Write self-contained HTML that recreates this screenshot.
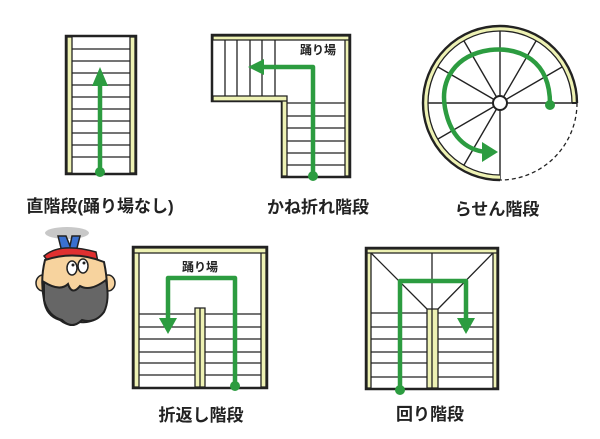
<!DOCTYPE html><html><head><meta charset="utf-8"><style>body{margin:0;background:#fff}svg{display:block}text{font-family:"Liberation Sans","Noto Sans CJK JP",sans-serif;font-weight:bold;fill:#222}</style></head><body>
<svg width="600" height="439" viewBox="0 0 600 439" xmlns="http://www.w3.org/2000/svg">
<g stroke="#222" stroke-width="1.3" fill="none">
<rect x="66" y="36" width="70" height="138" fill="#fff" stroke-width="2.5"/>
<rect x="67" y="37" width="5" height="136" fill="#eef2b4"/>
<rect x="130" y="37" width="5" height="136" fill="#eef2b4"/>
<path d="M72 49H130M72 61H130M72 73H130M72 85H130M72 97H130M72 109H130M72 121H130M72 133H130M72 145H130M72 157H130"/>
<path d="M212 35H350V177H282V101H212Z" fill="#fff" stroke-width="2.5"/>
<path d="M213 36H349V40H213Z M345 40H349V176H345Z M282 101H287V176H282Z M213 96H287V101H213Z" fill="#eef2b4"/>
<path d="M225 40V96M237 40V96M250 40V96M262 40V96M275 40V96M287 103H345M287 116H345M287 128H345M287 141H345M287 153H345M287 165H345"/>
<g stroke-width="1.4">
<line x1="500" y1="103" x2="572" y2="103"/><line x1="500" y1="103" x2="562" y2="67"/><line x1="500" y1="103" x2="536" y2="41"/><line x1="500" y1="103" x2="500" y2="31"/><line x1="500" y1="103" x2="464" y2="41"/><line x1="500" y1="103" x2="438" y2="67"/><line x1="500" y1="103" x2="428" y2="103"/><line x1="500" y1="103" x2="438" y2="139"/><line x1="500" y1="103" x2="464" y2="165"/><line x1="500" y1="103" x2="500" y2="180"/>
</g>
<path d="M574.5 103A74.5 74.5 0 1 0 500 177.5" stroke="#eef2b4" stroke-width="5"/>
<path d="M577 103A77 77 0 1 0 500 180" stroke-width="2.4"/>
<path d="M572 103A72 72 0 1 0 500 175" stroke-width="1.3"/>
<path d="M577 103A77 77 0 0 1 500 180" stroke-dasharray="4 3"/>
<line x1="572" y1="103" x2="577" y2="103" stroke-width="2"/>
<circle cx="500" cy="103" r="7" fill="#fff" stroke-width="2"/>
<rect x="133" y="247" width="134" height="141" fill="#fff" stroke-width="2.5"/>
<path d="M134 248H266V253H134Z M134 253H139V387H134Z M261 253H266V387H261Z M195 308H205V387H195Z" fill="#eef2b4"/>
<path d="M139 314H195M139 327H195M139 339H195M139 352H195M139 363H195M139 375H195M205 314H261M205 327H261M205 339H261M205 352H261M205 363H261M205 375H261M200 308V387"/>
<rect x="366" y="248" width="132" height="141" fill="#fff" stroke-width="2.5"/>
<path d="M367 249H497V253H367Z M367 253H371V388H367Z M493 253H497V388H493Z M427 309H438V388H427Z" fill="#eef2b4"/>
<path d="M371 253L427 309M493 253L438 309M432 253V309M432 309V388M371 313H427M371 327H427M371 339H427M371 352H427M371 363H427M371 377H427M438 313H493M438 327H493M438 339H493M438 352H493M438 363H493M438 377H493"/>
</g>
<g stroke="#2c9c40" stroke-width="4.5" fill="none" stroke-linecap="round" stroke-linejoin="round">
<path d="M100 172V80"/>
<path d="M313 176V67H262"/>
<path d="M550 104C550 60 520 47 490 50C455 55 440 80 445 108C450 135 465 150 486 152"/>
<path d="M235 386V278H168V320"/>
<path d="M400 390V281H466V318"/>
</g>
<g fill="#2c9c40">
<path d="M92 86L100 67L108 86Z"/><circle cx="100" cy="172" r="5"/>
<path d="M264 59L248 67L264 75Z"/><circle cx="313" cy="176" r="5"/>
<circle cx="550" cy="105" r="5"/><path d="M482 142L498 152L482 162Z"/>
<circle cx="235" cy="386" r="5"/><path d="M159 318L177 318L168 334Z"/>
<circle cx="400" cy="390" r="5"/><path d="M457 318L475 318L466 334Z"/>
</g>
<ellipse cx="67" cy="233" rx="22" ry="6" fill="#c8c8c8"/>
<path d="M58 236L62 252L76 252L80 236L72 236L70 246L66 236Z" fill="#3a70d0" stroke="#222" stroke-width="1.5"/>
<path d="M44 256Q60 242 96 252L98 262L50 264Z" fill="#e03030" stroke="#222" stroke-width="1.5"/>
<ellipse cx="43" cy="283" rx="7" ry="8" fill="#f7d39e" stroke="#222" stroke-width="1.5"/>
<ellipse cx="108" cy="283" rx="7" ry="8" fill="#f7d39e" stroke="#222" stroke-width="1.5"/>
<path d="M45 260Q75 250 104 262Q110 290 104 310Q95 324 80 322Q70 328 60 320Q46 316 44 300Q40 280 45 260Z" fill="#f7d39e" stroke="#222" stroke-width="2"/>
<path d="M44 282Q60 292 68 284Q72 296 80 286Q90 292 106 280Q110 300 104 312Q95 324 82 320Q72 330 62 320Q48 316 44 300Z" fill="#666" stroke="#222" stroke-width="2"/>
<ellipse cx="72" cy="268" rx="5" ry="7" fill="#fff" stroke="#222" stroke-width="1.5"/>
<ellipse cx="83" cy="266" rx="5" ry="7" fill="#fff" stroke="#222" stroke-width="1.5"/>
<circle cx="73" cy="265" r="1.5" fill="#222"/><circle cx="84" cy="263" r="1.5" fill="#222"/>
<text x="100" y="212" font-size="17" text-anchor="middle">直階段(踊り場なし)</text>
<text x="318" y="213" font-size="17" text-anchor="middle">かね折れ階段</text>
<text x="497" y="215" font-size="17" text-anchor="middle">らせん階段</text>
<text x="201" y="421" font-size="17" text-anchor="middle">折返し階段</text>
<text x="430" y="420" font-size="17" text-anchor="middle">回り階段</text>
<text x="318" y="54" font-size="12" text-anchor="middle">踊り場</text>
<text x="200" y="271" font-size="12" text-anchor="middle">踊り場</text>
</svg>
</body></html>
